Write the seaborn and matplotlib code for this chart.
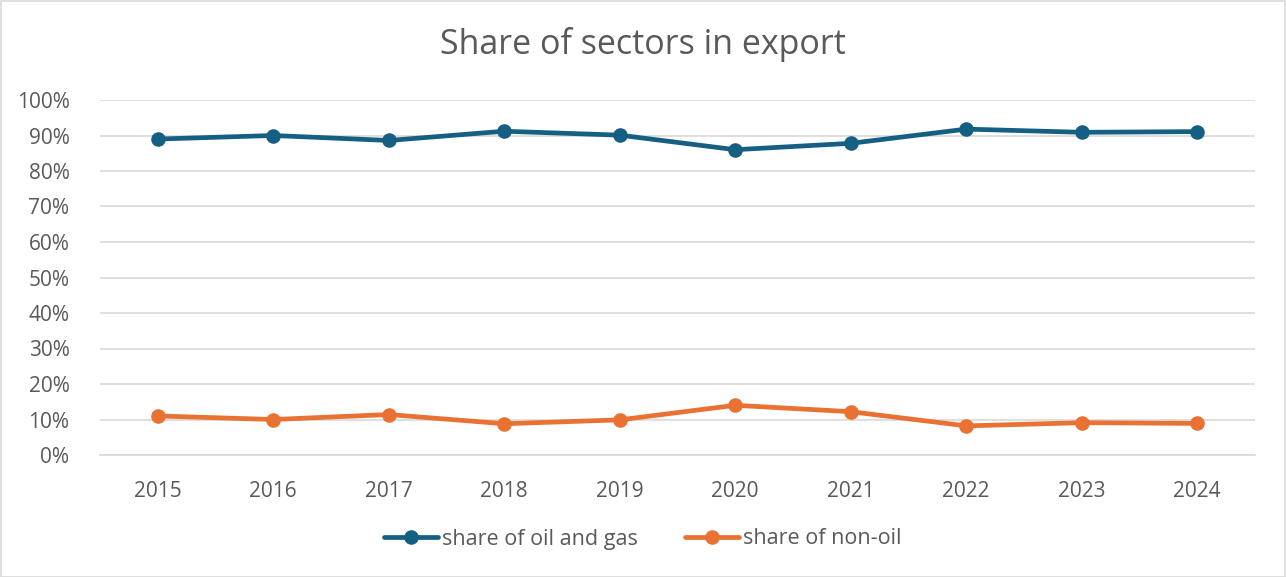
import matplotlib
matplotlib.use("Agg")
import matplotlib.pyplot as plt
import seaborn as sns
import pandas as pd
from matplotlib.patches import Rectangle

years = [2015, 2016, 2017, 2018, 2019, 2020, 2021, 2022, 2023, 2024]
oil_gas = [89.0, 90.0, 88.6, 91.2, 90.1, 86.0, 87.8, 91.8, 90.9, 91.1]
non_oil = [11.0, 10.0, 11.4, 8.8, 9.9, 14.0, 12.2, 8.2, 9.1, 8.9]
series_names = ["share of oil and gas", "share of non-oil"]
y_ticks = [0, 10, 20, 30, 40, 50, 60, 70, 80, 90, 100]
title = "Share of sectors in export"

df = pd.DataFrame({
    "year": years * 2,
    "value": oil_gas + non_oil,
    "series": [series_names[0]] * len(years) + [series_names[1]] * len(years),
})

sns.set_theme(style="white")
plt.rcParams["font.family"] = ["Open Sans", "DejaVu Sans"]
text_color = "#595959"

fig = plt.figure(figsize=(12.86, 5.77), dpi=100)
ax = fig.add_axes([100 / 1286, 122 / 577, 1155 / 1286, 355 / 577])

palette = {series_names[0]: "#156082", series_names[1]: "#E97132"}
sns.lineplot(data=df, x="year", y="value", hue="series", palette=palette,
             marker="o", markersize=10.5, markeredgewidth=0, linewidth=3.4,
             ax=ax, legend=True)

ax.set_xlim(years[0] - 0.5, years[-1] + 0.5)
ax.set_ylim(0, 100)
ax.set_xticks(years)
ax.set_xticklabels([str(y) for y in years])
ax.set_yticks(y_ticks)
ax.set_yticklabels([f"{v}%" for v in y_ticks])
ax.tick_params(axis="both", length=0, labelsize=15, colors=text_color)
ax.tick_params(axis="x", pad=19)
ax.tick_params(axis="y", pad=22)
ax.set_xlabel("")
ax.set_ylabel("")
ax.grid(axis="y", color="#D9D9D9", linewidth=1.2)
ax.set_axisbelow(True)
for s in ["top", "right", "left"]:
    ax.spines[s].set_visible(False)
ax.spines["bottom"].set_color("#D9D9D9")
ax.spines["bottom"].set_linewidth(1.2)

fig.text(0.5, 1 - 45 / 577, title, ha="center", va="center",
         fontsize=24.5, color=text_color)

handles, labels = ax.get_legend_handles_labels()
ax.legend(handles, labels, loc="center", bbox_to_anchor=(0.5, (577 - 539) / 577),
          bbox_transform=fig.transFigure, ncol=2, frameon=False,
          fontsize=15.5, labelcolor=text_color, handlelength=2.5,
          handletextpad=0.2, columnspacing=2.2)

fig.patches.append(Rectangle((0.5 / 1286, 0.5 / 577), 1 - 1.5 / 1286, 1 - 1.5 / 577,
                             transform=fig.transFigure, fill=False,
                             edgecolor="#D9D9D9", linewidth=1.2))

fig.savefig("out.png", dpi=100, facecolor="white")
